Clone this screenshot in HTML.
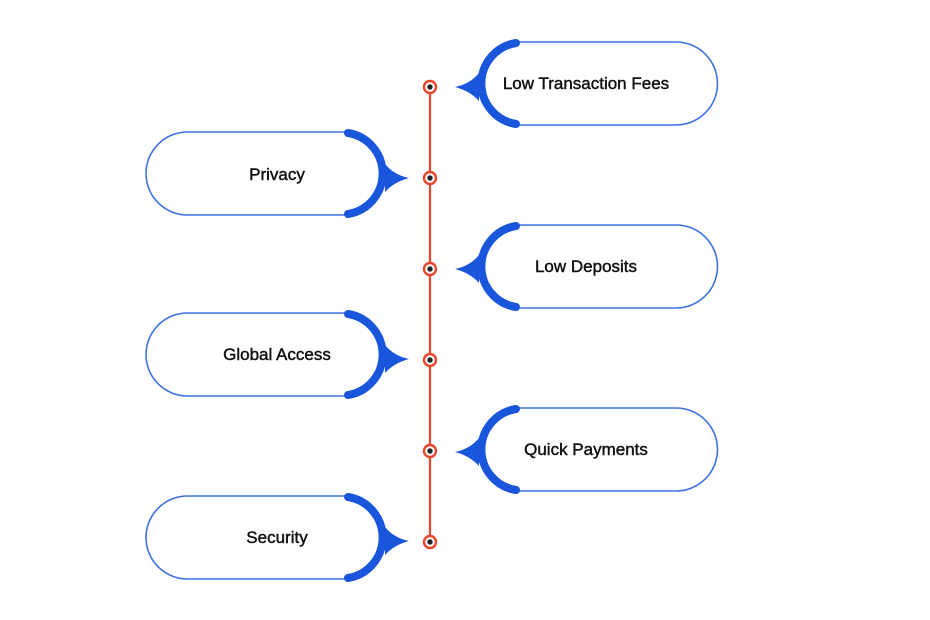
<!DOCTYPE html>
<html><head><meta charset="utf-8"><style>
html,body{margin:0;padding:0;background:#fff;}
svg{display:block;}
text{font-family:"Liberation Sans",Arial,sans-serif;font-size:17px;font-weight:normal;fill:#111;stroke:#111;stroke-width:0.45;text-anchor:middle;}
.thin{fill:#fff;stroke:#3d72e3;stroke-width:1.6;}
.thick{fill:none;stroke:#1a56db;stroke-width:8;stroke-linecap:round;}
.ptr{fill:#1a56db;}
</style></head><body>
<svg width="930" height="620" viewBox="0 0 930 620">
<line x1="430" y1="87" x2="430" y2="542" stroke="#e8472b" stroke-width="2.2"/>
<g fill="#fff" stroke="#e8472b" stroke-width="2.4">
<circle cx="430" cy="87" r="6"/><circle cx="430" cy="178" r="6"/><circle cx="430" cy="269" r="6"/>
<circle cx="430" cy="360" r="6"/><circle cx="430" cy="451" r="6"/><circle cx="430" cy="542" r="6"/>
</g>
<g fill="#222">
<circle cx="430" cy="87" r="2.7"/><circle cx="430" cy="178" r="2.7"/><circle cx="430" cy="269" r="2.7"/>
<circle cx="430" cy="360" r="2.7"/><circle cx="430" cy="451" r="2.7"/><circle cx="430" cy="542" r="2.7"/>
</g>

<!-- right pills -->
<path class="thin" d="M516,42 H676 A41.5,41.5 0 0 1 676,125 H516"/>
<path class="thick" d="M516,43 A41,41 0 0 0 516,124"/>
<path class="ptr" d="M479,73 Q470,84 455,87 Q470,91 479,101 Z"/>
<text x="586" y="89">Low Transaction Fees</text>

<path class="thin" d="M516,225 H676 A41.5,41.5 0 0 1 676,308 H516"/>
<path class="thick" d="M516,226 A41,41 0 0 0 516,307"/>
<path class="ptr" d="M479,255 Q470,266 455,269 Q470,273 479,283 Z"/>
<text x="586" y="272">Low Deposits</text>

<path class="thin" d="M516,408 H676 A41.5,41.5 0 0 1 676,491 H516"/>
<path class="thick" d="M516,409 A41,41 0 0 0 516,490"/>
<path class="ptr" d="M479,438 Q470,449 455,452 Q470,456 479,466 Z"/>
<text x="586" y="455">Quick Payments</text>

<!-- left pills -->
<path class="thin" d="M348,132 H187.5 A41.5,41.5 0 0 0 187.5,215 H348"/>
<path class="thick" d="M348,133 A41,41 0 0 1 348,214"/>
<path class="ptr" d="M385,164 Q394,175 409,178 Q394,182 385,192 Z"/>
<text x="277" y="180">Privacy</text>

<path class="thin" d="M348,313 H187.5 A41.5,41.5 0 0 0 187.5,396 H348"/>
<path class="thick" d="M348,314 A41,41 0 0 1 348,395"/>
<path class="ptr" d="M385,345 Q394,356 409,359 Q394,363 385,373 Z"/>
<text x="277" y="360">Global Access</text>

<path class="thin" d="M348,496 H187.5 A41.5,41.5 0 0 0 187.5,579 H348"/>
<path class="thick" d="M348,497 A41,41 0 0 1 348,578"/>
<path class="ptr" d="M385,527 Q394,538 409,541 Q394,545 385,555 Z"/>
<text x="277" y="543">Security</text>
</svg>
</body></html>
